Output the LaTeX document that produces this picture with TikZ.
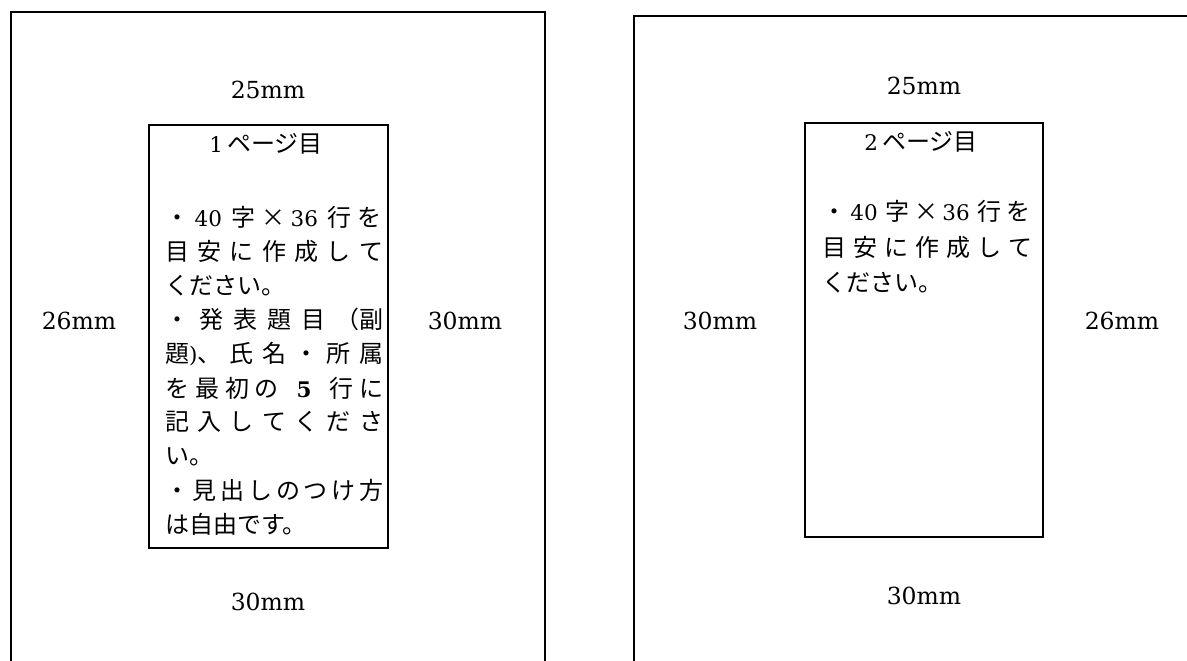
\documentclass[tikz,border=0pt]{standalone}
\usepackage{fontspec}
\newfontfamily\jp{Noto Sans CJK JP}
\newfontfamily\lat{DejaVu Serif}
\newcommand\lt[1]{{\fontsize{21.5}{24}\selectfont\lat #1}}
\newcommand\jl[2]{\makebox[#1][s]{#2}}
\tikzset{
  lbl/.style={font=\fontsize{23.5}{28}\selectfont\lat, inner sep=0pt},
  txt/.style={font=\fontsize{24}{28}\selectfont\jp, inner sep=0pt, anchor=west},
  ttl/.style={font=\fontsize{24}{28}\selectfont\jp, inner sep=0pt},
  pageedge/.style={line width=2pt},
  msgbox/.style={draw, line width=1.9pt, inner sep=0pt}
}
\begin{document}
\begin{tikzpicture}[x=1pt,y=-1pt]
\useasboundingbox (0,0) rectangle (1187,661);
\clip (0,0) rectangle (1187,661);
% pages
\draw[pageedge] (10.5,680) -- (10.5,12.5) -- (545,12.5) -- (545,680);
\draw[pageedge] (634,680) -- (634,16.5) -- (1200,16.5);
% inner boxes
\node[msgbox, minimum width=239pt, minimum height=423pt] (b1) at (268.5,336.5) {};
\node[msgbox, minimum width=238pt, minimum height=414pt] (b2) at (924,330) {};
% margin labels, page 1
\node[lbl] (p1top) at (268,90) {25mm};
\node[lbl] (p1left) at (79,321) {26mm};
\node[lbl] (p1right) at (465,321) {30mm};
\node[lbl] (p1bot) at (268,602) {30mm};
% margin labels, page 2
\node[lbl] (p2top) at (924,86) {25mm};
\node[lbl] (p2left) at (720,321) {30mm};
\node[lbl] (p2right) at (1122,321) {26mm};
\node[lbl] (p2bot) at (924,596) {30mm};
% page 1 text
\node[ttl] (t1) at (266,144) {\lt{1}\,ページ目};
\node[txt] (l1) at (165,217.0) {\jl{216pt}{・\hfill \lt{40}\hspace{4pt}\hfill 字\hfill ×\hfill \lt{36}\hspace{4pt}\hfill 行\hfill を}};
\node[txt] (l2) at (165,251.2) {\jl{218pt}{目\hfill 安\hfill に\hfill 作\hfill 成\hfill し\hfill て}};
\node[txt] (l3) at (165,285.4) {ください。};
\node[txt] (l4) at (165,319.6) {\jl{218pt}{・\hfill 発\hfill 表\hfill 題\hfill 目\hfill （副}};
\node[txt] (l5) at (165,353.8) {\jl{218pt}{題\lt{)}、\hfill 氏\hfill 名\hfill ・\hfill 所\hfill 属}};
\node[txt] (l6) at (165,388.0) {\jl{218pt}{を\hfill 最\hfill 初\hfill の\hfill\hfill\hfill \lt{\textbf{5}}\hfill\hfill\hfill 行\hfill に}};
\node[txt] (l7) at (165,422.2) {\jl{218pt}{記\hfill 入\hfill し\hfill て\hfill く\hfill だ\hfill さ}};
\node[txt] (l8) at (165,456.4) {い。};
\node[txt] (l9) at (165,490.6) {\jl{218pt}{・\hfill 見\hfill 出\hfill し\hfill の\hfill つ\hfill け\hfill 方}};
\node[txt] (l10) at (165,524.8) {は自由です。};
% page 2 text
\node[ttl] (t2) at (921,142) {\lt{2}\,ページ目};
\node[txt] (r1) at (822,211) {\jl{208pt}{・\hfill \lt{40}\hspace{4pt}\hfill 字\hfill ×\hfill \lt{36}\hspace{4pt}\hfill 行\hfill を}};
\node[txt] (r2) at (822,247) {\jl{210pt}{目\hfill 安\hfill に\hfill 作\hfill 成\hfill し\hfill て}};
\node[txt] (r3) at (822,283) {ください。};
\end{tikzpicture}
\end{document}
